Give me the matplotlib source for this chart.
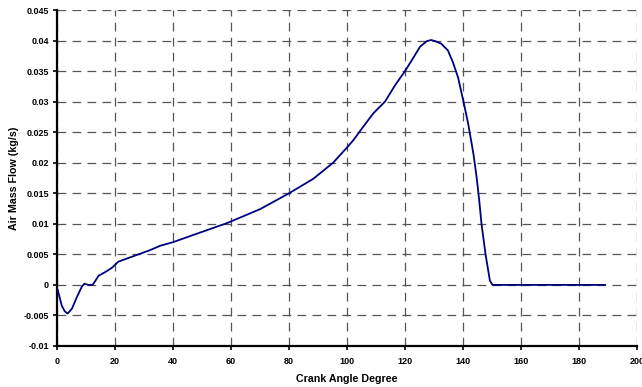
import matplotlib
matplotlib.use("Agg")
import matplotlib.pyplot as plt

crank_angle = [0, 0.2, 1.6, 2.6, 3.6, 5.1, 6.8, 8.5, 9.4, 10.8, 12.2, 13.1,
               14.3, 16.6, 18.9, 21.1, 23.4, 26.3, 32.1, 35.5, 40, 48.3,
               58.5, 70, 80, 88.3, 95.2, 100, 102.2, 105.6, 109.1, 113.1,
               116.6, 120, 122.9, 125.2, 127.5, 129.0, 130.5, 132.5, 134.8,
               136.5, 138.3, 140.1, 141.8, 143.6, 144.7, 145.6, 146.4, 147.8,
               149.3, 150.2, 160, 170, 180, 189]
air_mass_flow = [-0.0006, -0.0008, -0.0034, -0.0043, -0.0047, -0.0039,
                 -0.0020, -0.0003, 0.0002, 0.0000, 0.0000, 0.0006, 0.0015,
                 0.0021, 0.0028, 0.0038, 0.0042, 0.0047, 0.0057, 0.0064,
                 0.0070, 0.0084, 0.0101, 0.0124, 0.0150, 0.01735, 0.0200,
                 0.0225, 0.0237, 0.0259, 0.0281, 0.0300, 0.0327, 0.0350,
                 0.0372, 0.0390, 0.0399, 0.0401, 0.0399, 0.0395, 0.0384,
                 0.0365, 0.0340, 0.0302, 0.0264, 0.0215, 0.0177, 0.0139,
                 0.0100, 0.0050, 0.0007, 0.0, 0.0, 0.0, 0.0, 0.0]

x_ticks = list(range(0, 201, 20))
y_ticks = [-0.01, -0.005, 0, 0.005, 0.01, 0.015, 0.02, 0.025, 0.03, 0.035, 0.04, 0.045]
y_tick_labels = ["-0.01", "-0.005", "0", "0.005", "0.01", "0.015", "0.02",
                 "0.025", "0.03", "0.035", "0.04", "0.045"]

plt.rcParams['font.family'] = ['Liberation Sans', 'DejaVu Sans']

fig = plt.figure(figsize=(6.42, 3.87), dpi=100)
ax = fig.add_axes([0.089, 0.106, 0.903, 0.868])

ax.plot(crank_angle, air_mass_flow, color='#000080', linewidth=1.3,
        solid_joinstyle='round', zorder=3)

ax.set_xlim(0, 200)
ax.set_ylim(-0.01, 0.045)
ax.set_xticks(x_ticks)
ax.set_xticklabels([str(t) for t in x_ticks], fontsize=6.5, fontweight='bold')
ax.set_yticks(y_ticks)
ax.set_yticklabels(y_tick_labels, fontsize=6.5, fontweight='bold')

ax.grid(True, color='#555555', linestyle=(0, (7, 5)), linewidth=0.9)
ax.set_axisbelow(True)

for s in ['top', 'right']:
    ax.spines[s].set_visible(False)
for s in ['left', 'bottom']:
    ax.spines[s].set_linewidth(1.6)
    ax.spines[s].set_color('black')
ax.tick_params(axis='y', direction='out', length=3, width=1.2, pad=3)
ax.tick_params(axis='x', direction='out', length=3, width=1.2, pad=5)

ax.set_xlabel('Crank Angle Degree', fontsize=7.7, fontweight='bold', labelpad=6)
ax.set_ylabel('Air Mass Flow (kg/s)', fontsize=7.7, fontweight='bold', labelpad=3)

fig.savefig('out.png', dpi=100)
